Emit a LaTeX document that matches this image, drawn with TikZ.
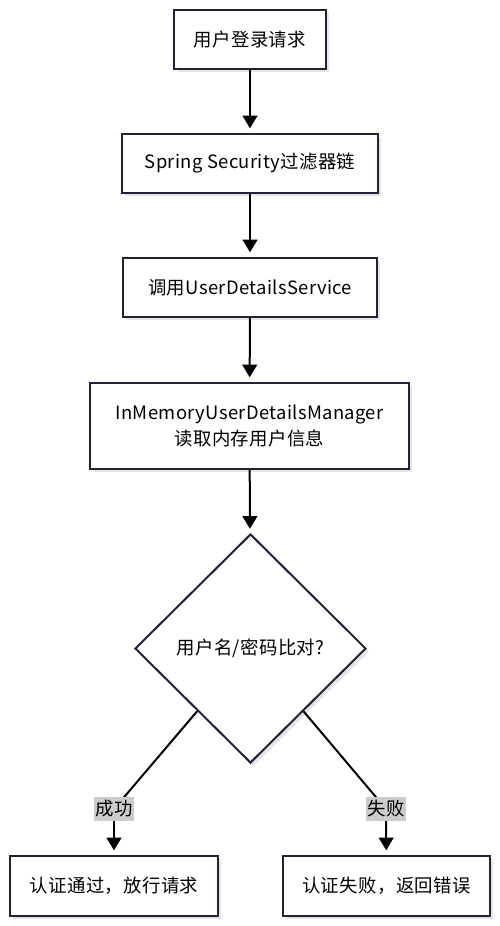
\documentclass[tikz,border=0pt]{standalone}
\usepackage{fontspec}
\setmainfont{Noto Sans CJK SC}[LetterSpace=2]
\usetikzlibrary{shapes.geometric,arrows.meta,shadows}
\definecolor{edgecol}{HTML}{222233}
\definecolor{labbg}{HTML}{CCCCCC}
\tikzset{
  procbox/.style={draw=edgecol, line width=1.5pt, fill=white, inner sep=0pt, align=center,
    font=\fontsize{13.8pt}{19.5pt}\selectfont,
    drop shadow={shadow xshift=2.5pt, shadow yshift=-2.5pt, fill=black!10, opacity=1}},
  decbox/.style={procbox, shape=diamond},
  conn/.style={draw=black, line width=1.5pt, -{Triangle[width=11pt,length=9.5pt]}, shorten >=3.5pt},
  plainconn/.style={draw=black, line width=1.5pt},
  edgelab/.style={fill=labbg, inner xsep=1pt, inner ysep=2.5pt, font=\fontsize{13.8pt}{16pt}\selectfont}
}
\begin{document}
\begin{tikzpicture}[x=0.75pt,y=-0.75pt]
\useasboundingbox (0,0) rectangle (500,926);
\node[procbox, minimum width=114pt, minimum height=44.25pt] (req) at (250,39.5) {用户登录请求};
\node[procbox, minimum width=192pt, minimum height=44.25pt] (chain) at (250,163.5) {Spring Security过滤器链};
\node[procbox, minimum width=190.5pt, minimum height=44.25pt] (uds) at (250,287.5) {调用UserDetailsService};
\node[procbox, minimum width=239.25pt, minimum height=64.5pt] (mem) at (249.5,426) {InMemoryUserDetailsManager\\读取内存用户信息};
\node[decbox, minimum width=173.25pt, minimum height=171.75pt] (cmp) at (250.5,648.5) {用户名/密码比对?};
\node[procbox, minimum width=156pt, minimum height=45pt] (ok) at (114,886) {认证通过，放行请求};
\node[procbox, minimum width=155.25pt, minimum height=45pt] (fail) at (386.5,886) {认证失败，返回错误};
\coordinate (c1) at (114,809);
\coordinate (c2) at (386,809);
\draw[conn] (req) -- (chain);
\draw[conn] (chain) -- (uds);
\draw[conn] (uds) -- (mem);
\draw[conn] (mem) -- (cmp);
\draw[plainconn] (cmp) -- (c1);
\draw[conn] (c1) -- (ok);
\draw[plainconn] (cmp) -- (c2);
\draw[conn] (c2) -- (fail);
\node[edgelab] (lok) at (c1) {成功};
\node[edgelab] (lfail) at (c2) {失败};
\end{tikzpicture}
\end{document}
